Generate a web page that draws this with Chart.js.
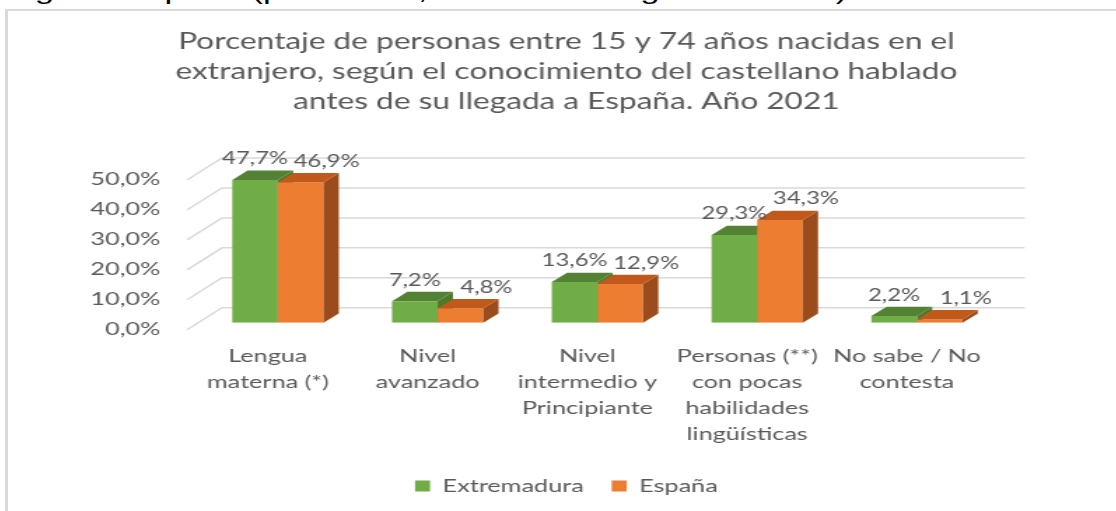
<!DOCTYPE html>
<html>
<head>
<meta charset="utf-8">
<script src="https://cdn.jsdelivr.net/npm/chart.js@4.4.1/dist/chart.umd.min.js"></script>
<style>
  html, body { margin: 0; padding: 0; background: #fff; overflow: hidden; width: 1116px; height: 511px; }
  #note { position: absolute; left: 0; top: -21px; font: 24px "Liberation Sans", Arial, sans-serif; line-height: 24px; color: #000; white-space: nowrap; transform: scaleX(1.45); transform-origin: 0 0; }
  #frame { position: absolute; left: 5px; top: 9px; width: 1200px; height: 600px; border-left: 3px solid #d9d9d9; border-top: 2px solid #d9d9d9; }
  #wrap { position: absolute; left: 5px; top: 10px; transform-origin: 0 0; }
</style>
</head>
<body>
<div id="note">llegar a España (para el 46,9% era su lengua materna).</div>
<div id="frame"></div>
<div id="wrap"><canvas id="chart"></canvas></div>
<script>
// the source picture is stretched sideways, so the chart is drawn narrow and scaled back
const SX = 1.4;
const FULL_W = 1124;
const W = FULL_W / SX;
const H = 501;

const categories = [
    ['Lengua', 'materna (*)'],
    ['Nivel', 'avanzado'],
    ['Nivel', 'intermedio y', 'Principiante'],
    ['Personas (**)', 'con pocas', 'habilidades', 'lingüísticas'],
    ['No sabe / No', 'contesta'],
];
const extremadura = [47.7, 7.2, 13.6, 29.3, 2.2];
const espana = [46.9, 4.8, 12.9, 34.3, 1.1];
const titleLines = [
    'Porcentaje de personas entre 15 y 74 años nacidas en el',
    'extranjero, según el conocimiento del castellano hablado',
    'antes de su llegada a España. Año 2021',
];

const TEXT = '#595959';
const FONT = 'Lato';

// 3D look: front face drawn by Chart.js, top + side faces added here
const faces = [
    { top: '#548235', side: '#4a7a2c' },
    { top: '#c0591a', side: '#9b4c1c' },
];
const DEPTH_X = 15.3 / SX;
const DEPTH_Y = -9.3;

function drawBox(ctx, bar, face) {
    const left = bar.x - bar.width / 2;
    const right = bar.x + bar.width / 2;
    const top = bar.y;
    const base = bar.base;
    ctx.fillStyle = face.side;
    ctx.beginPath();
    ctx.moveTo(right, top);
    ctx.lineTo(right + DEPTH_X, top + DEPTH_Y);
    ctx.lineTo(right + DEPTH_X, base + DEPTH_Y);
    ctx.lineTo(right, base);
    ctx.closePath();
    ctx.fill();
    ctx.fillStyle = face.top;
    ctx.beginPath();
    ctx.moveTo(left, top);
    ctx.lineTo(left + DEPTH_X, top + DEPTH_Y);
    ctx.lineTo(right + DEPTH_X, top + DEPTH_Y);
    ctx.lineTo(right, top);
    ctx.closePath();
    ctx.fill();
}

const threeD = {
    id: 'threeD',
    beforeDatasetsDraw(chart) {
        const { ctx, chartArea, scales } = chart;
        const y = scales.y;
        const backL = chartArea.left + 24 / SX;
        const backR = chartArea.right + 28 / SX;
        const frontL = chartArea.left - 11 / SX;
        ctx.save();
        ctx.strokeStyle = '#d9d9d9';
        ctx.lineWidth = 1.5;
        y.ticks.forEach(t => {
            const py = y.getPixelForValue(t.value);
            ctx.beginPath();
            ctx.moveTo(frontL, py + 7);
            ctx.lineTo(backL, py - 15);
            ctx.lineTo(backR, py - 15);
            ctx.stroke();
        });
        // green side/top go behind the orange front
        chart.getDatasetMeta(0).data.forEach(bar => drawBox(ctx, bar, faces[0]));
        ctx.restore();
    },
    afterDatasetsDraw(chart) {
        const { ctx } = chart;
        ctx.save();
        chart.getDatasetMeta(1).data.forEach(bar => drawBox(ctx, bar, faces[1]));
        ctx.font = `17px ${FONT}`;
        ctx.fillStyle = TEXT;
        ctx.textAlign = 'center';
        ctx.textBaseline = 'middle';
        [0, 1].forEach(di => {
            const shift = di === 0 ? 0 : 26 / SX;
            chart.getDatasetMeta(di).data.forEach((bar, i) => {
                const v = chart.data.datasets[di].data[i];
                ctx.fillText(v.toFixed(1).replace('.', ',') + '%', bar.x + shift, bar.y - 21);
            });
        });
        ctx.restore();
    },
};

const wrap = document.getElementById('wrap');
wrap.style.width = W + 'px';
wrap.style.height = H + 'px';
wrap.style.transform = `scaleX(${SX})`;
const canvas = document.getElementById('chart');
canvas.width = W;
canvas.height = H;

new Chart(canvas, {
    type: 'bar',
    data: {
        labels: categories,
        datasets: [
            { label: 'Extremadura', data: extremadura, backgroundColor: '#70ad47' },
            { label: 'España', data: espana, backgroundColor: '#ed7d31' },
        ],
    },
    options: {
        responsive: false,
        animation: false,
        devicePixelRatio: 1,
        categoryPercentage: 0.571,
        barPercentage: 1,
        layout: { padding: { bottom: 6 } },
        plugins: {
            title: {
                display: true,
                text: titleLines,
                color: TEXT,
                font: { family: FONT, size: 22.6, weight: 'normal', lineHeight: 30 / 22.6 },
                padding: { top: 17, bottom: 56 },
            },
            legend: {
                position: 'bottom',
                labels: {
                    color: TEXT,
                    font: { family: FONT, size: 18 },
                    boxWidth: 15 / SX,
                    boxHeight: 11,
                    padding: 20,
                },
            },
            tooltip: { enabled: false },
        },
        scales: {
            x: {
                grid: { display: false, drawTicks: false },
                border: { display: false },
                ticks: {
                    color: TEXT,
                    font: { family: FONT, size: 18, lineHeight: 1.45 },
                    padding: 20,
                    labelOffset: -10 / SX,
                    maxRotation: 0,
                    autoSkip: false,
                },
                afterFit: s => { s.height = 134.3; },
            },
            y: {
                min: 0,
                max: 50,
                grid: { display: false, drawTicks: false },
                border: { display: false },
                ticks: {
                    stepSize: 10,
                    color: TEXT,
                    font: { family: FONT, size: 18 },
                    padding: 27,
                    labelOffset: 6,
                    callback: v => v.toFixed(1).replace('.', ',') + '%',
                },
                afterFit: s => { s.width = 193 / SX; },
            },
            // empty right axis keeps the plot narrow while title/legend stay centred
            yRight: {
                position: 'right',
                display: true,
                grid: { display: false, drawTicks: false },
                border: { display: false },
                ticks: { display: false },
                afterFit: s => { s.width = W - 993 / SX; },
            },
        },
    },
    plugins: [threeD],
});
</script>
</body>
</html>
